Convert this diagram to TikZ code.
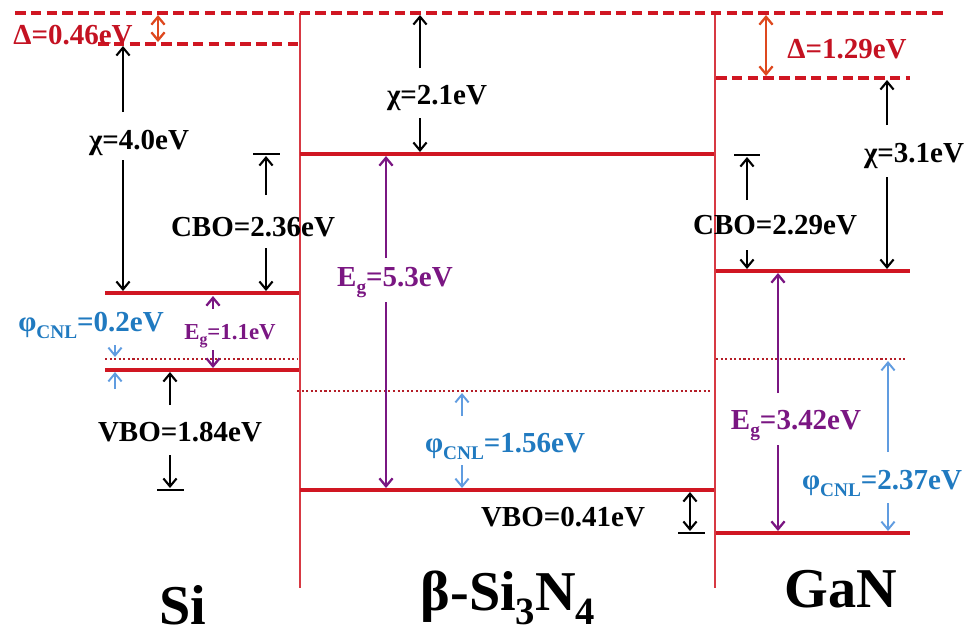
\documentclass[tikz,border=0pt]{standalone}
\usepackage{fontspec}
\setmainfont{Liberation Serif}
\usetikzlibrary{arrows.meta}
\definecolor{lvlred}{RGB}{208,22,34}
\definecolor{dotred}{RGB}{180,30,40}
\definecolor{deltaorange}{RGB}{222,72,30}
\definecolor{deltatext}{RGB}{196,18,34}
\definecolor{egpurple}{RGB}{122,22,130}
\definecolor{cnlblue}{RGB}{32,122,192}
\definecolor{cnlarrow}{RGB}{96,156,224}
\newcommand{\lsub}[2][11]{\raisebox{-0.25em}{\fontsize{#1}{#1}\selectfont #2}}
\tikzset{
	level/.style={lvlred, line width=2.3pt},
	vacuum/.style={lvlred, line width=2.3pt, dash pattern=on 6pt off 3pt},
	cnl/.style={dotred, line width=1.3pt, dash pattern=on 1.2pt off 1.4pt},
	iface/.style={lvlred!85, line width=1.1pt},
	>={Straight Barb[length=4.5pt,width=7.5pt]},
	arrBlack/.style={black, line width=1.2pt},
	arrPurple/.style={egpurple, line width=1.3pt},
	arrBlue/.style={cnlarrow, line width=1.1pt},
	arrDelta/.style={deltaorange, line width=1.3pt, <->},
	tbar/.style={black, line width=1.2pt},
	lbl/.style={anchor=base, inner sep=0pt, font=\fontsize{16.5}{18}\selectfont\bfseries},
	lblSmall/.style={lbl, font=\fontsize{13}{15}\selectfont\bfseries},
	material/.style={anchor=base, inner sep=0pt, font=\fontsize{32}{34}\selectfont\bfseries}
}

\begin{document}
\begin{tikzpicture}[x=0.02cm, y=-0.02cm]
\useasboundingbox (0,0) rectangle (970,637);
% band edges
\coordinate (vacL) at (15,13);      \coordinate (vacR) at (945,13);
\coordinate (siVacL) at (98,44);    \coordinate (siVacR) at (298,44);
\coordinate (siCBL) at (105,293);   \coordinate (siCBR) at (299,293);
\coordinate (siCNLL) at (105,359);  \coordinate (siCNLR) at (298,359);
\coordinate (siVBL) at (105,370);   \coordinate (siVBR) at (299,370);
\coordinate (snCBL) at (300,154);   \coordinate (snCBR) at (714,154);
\coordinate (snCNLL) at (297,391);  \coordinate (snCNLR) at (712,391);
\coordinate (snVBL) at (300,490);   \coordinate (snVBR) at (714,490);
\coordinate (gnVacL) at (716,78);   \coordinate (gnVacR) at (910,78);
\coordinate (gnCBL) at (716,271);   \coordinate (gnCBR) at (910,271);
\coordinate (gnCNLL) at (716,359);  \coordinate (gnCNLR) at (905,359);
\coordinate (gnVBL) at (716,533);   \coordinate (gnVBR) at (910,533);
\coordinate (ifAt) at (300,13);     \coordinate (ifAb) at (300,588);
\coordinate (ifBt) at (715,13);     \coordinate (ifBb) at (715,588);

\draw[iface] (ifAt) -- (ifAb);
\draw[iface] (ifBt) -- (ifBb);
\draw[vacuum] (vacL) -- (vacR);
\draw[vacuum] (siVacL) -- (siVacR);
\draw[vacuum] (gnVacL) -- (gnVacR);
\draw[cnl] (siCNLL) -- (siCNLR);
\draw[cnl] (snCNLL) -- (snCNLR);
\draw[cnl] (gnCNLL) -- (gnCNLR);
\draw[level] (siCBL) -- (siCBR);
\draw[level] (siVBL) -- (siVBR);
\draw[level] (snCBL) -- (snCBR);
\draw[level] (snVBL) -- (snVBR);
\draw[level] (gnCBL) -- (gnCBR);
\draw[level] (gnVBL) -- (gnVBR);

% Si side
\coordinate (dSiA) at (158,15);    \coordinate (dSiB) at (158,42);
\coordinate (chiSiA) at (123,112); \coordinate (chiSiB) at (123,46);
\coordinate (chiSiC) at (123,160); \coordinate (chiSiD) at (123,291);
\coordinate (cboSiA) at (266,195); \coordinate (cboSiB) at (266,156);
\coordinate (cboSiC) at (266,248); \coordinate (cboSiD) at (266,291);
\coordinate (cboSiL) at (253,154); \coordinate (cboSiR) at (280,154);
\coordinate (egSiA) at (213,309);  \coordinate (egSiB) at (213,296);
\coordinate (egSiC) at (213,350);  \coordinate (egSiD) at (213,368);
\coordinate (cnlSiA) at (115,345); \coordinate (cnlSiB) at (115,357);
\coordinate (cnlSiC) at (115,389); \coordinate (cnlSiD) at (115,372);
\coordinate (vboSiA) at (170,405); \coordinate (vboSiB) at (170,372);
\coordinate (vboSiC) at (170,455); \coordinate (vboSiD) at (170,488);
\coordinate (vboSiL) at (157,490); \coordinate (vboSiR) at (184,490);

\draw[arrDelta] (dSiA) -- (dSiB);
\draw[arrBlack,->] (chiSiA) -- (chiSiB);
\draw[arrBlack,->] (chiSiC) -- (chiSiD);
\draw[arrBlack,->] (cboSiA) -- (cboSiB);
\draw[tbar] (cboSiL) -- (cboSiR);
\draw[arrBlack,->] (cboSiC) -- (cboSiD);
\draw[arrPurple,->] (egSiA) -- (egSiB);
\draw[arrPurple,->] (egSiC) -- (egSiD);
\draw[arrBlue,->] (cnlSiA) -- (cnlSiB);
\draw[arrBlue,->] (cnlSiC) -- (cnlSiD);
\draw[arrBlack,->] (vboSiA) -- (vboSiB);
\draw[arrBlack,->] (vboSiC) -- (vboSiD);
\draw[tbar] (vboSiL) -- (vboSiR);

\node[lbl, text=deltatext] (deltaSi) at (73,44) {Δ=0.46eV};
\node[lbl] (chiSi) at (139,149) {χ=4.0eV};
\node[lbl] (cboSi) at (253,236) {CBO=2.36eV};
\node[lbl, text=cnlblue] (cnlSi) at (91,331) {φ\lsub{CNL}=0.2eV};
\node[lblSmall, text=egpurple] (egSi) at (230,339) {E\lsub[9]{g}=1.1eV};
\node[lbl] (vboSi) at (180,441) {VBO=1.84eV};

% Si3N4 side
\coordinate (chiSnA) at (420,68);  \coordinate (chiSnB) at (420,15);
\coordinate (chiSnC) at (420,118); \coordinate (chiSnD) at (420,152);
\coordinate (egSnA) at (386,258);  \coordinate (egSnB) at (386,156);
\coordinate (egSnC) at (386,302);  \coordinate (egSnD) at (386,488);
\coordinate (cnlSnA) at (462,416); \coordinate (cnlSnB) at (462,393);
\coordinate (cnlSnC) at (462,465); \coordinate (cnlSnD) at (462,488);
\coordinate (vboSnA) at (690,492); \coordinate (vboSnB) at (690,531);
\coordinate (vboSnL) at (678,533); \coordinate (vboSnR) at (705,533);

\draw[arrBlack,->] (chiSnA) -- (chiSnB);
\draw[arrBlack,->] (chiSnC) -- (chiSnD);
\draw[arrPurple,->] (egSnA) -- (egSnB);
\draw[arrPurple,->] (egSnC) -- (egSnD);
\draw[arrBlue,->] (cnlSnA) -- (cnlSnB);
\draw[arrBlue,->] (cnlSnC) -- (cnlSnD);
\draw[arrBlack,<->] (vboSnA) -- (vboSnB);
\draw[tbar] (vboSnL) -- (vboSnR);

\node[lbl] (chiSn) at (437,104) {χ=2.1eV};
\node[lbl, text=egpurple] (egSn) at (395,286) {E\lsub{g}=5.3eV};
\node[lbl, text=cnlblue] (cnlSn) at (505,452) {φ\lsub{CNL}=1.56eV};
\node[lbl] (vboSn) at (563,526) {VBO=0.41eV};

% GaN side
\coordinate (dGnA) at (766,15);    \coordinate (dGnB) at (766,76);
\coordinate (chiGnA) at (887,125); \coordinate (chiGnB) at (887,80);
\coordinate (chiGnC) at (887,177); \coordinate (chiGnD) at (887,269);
\coordinate (cboGnA) at (747,200); \coordinate (cboGnB) at (747,157);
\coordinate (cboGnC) at (747,250); \coordinate (cboGnD) at (747,269);
\coordinate (cboGnL) at (734,155); \coordinate (cboGnR) at (760,155);
\coordinate (egGnA) at (778,393);  \coordinate (egGnB) at (778,273);
\coordinate (egGnC) at (778,445);  \coordinate (egGnD) at (778,531);
\coordinate (cnlGnA) at (888,452); \coordinate (cnlGnB) at (888,361);
\coordinate (cnlGnC) at (888,503); \coordinate (cnlGnD) at (888,531);

\draw[arrDelta] (dGnA) -- (dGnB);
\draw[arrBlack,->] (chiGnA) -- (chiGnB);
\draw[arrBlack,->] (chiGnC) -- (chiGnD);
\draw[arrBlack,->] (cboGnA) -- (cboGnB);
\draw[tbar] (cboGnL) -- (cboGnR);
\draw[arrBlack,->] (cboGnC) -- (cboGnD);
\draw[arrPurple,->] (egGnA) -- (egGnB);
\draw[arrPurple,->] (egGnC) -- (egGnD);
\draw[arrBlue,->] (cnlGnA) -- (cnlGnB);
\draw[arrBlue,->] (cnlGnC) -- (cnlGnD);

\node[lbl, text=deltatext] (deltaGn) at (847,58) {Δ=1.29eV};
\node[lbl] (chiGn) at (914,162) {χ=3.1eV};
\node[lbl] (cboGn) at (775,234) {CBO=2.29eV};
\node[lbl, text=egpurple] (egGn) at (796,429) {E\lsub{g}=3.42eV};
\node[lbl, text=cnlblue] (cnlGn) at (882,489) {φ\lsub{CNL}=2.37eV};

% materials
\node[material] (matSi) at (183,624) {Si};
\node[material] (matSn) at (508,610) {β-Si\lsub[22]{3}N\lsub[22]{4}};
\node[material] (matGn) at (841,607) {GaN};
\end{tikzpicture}
\end{document}
